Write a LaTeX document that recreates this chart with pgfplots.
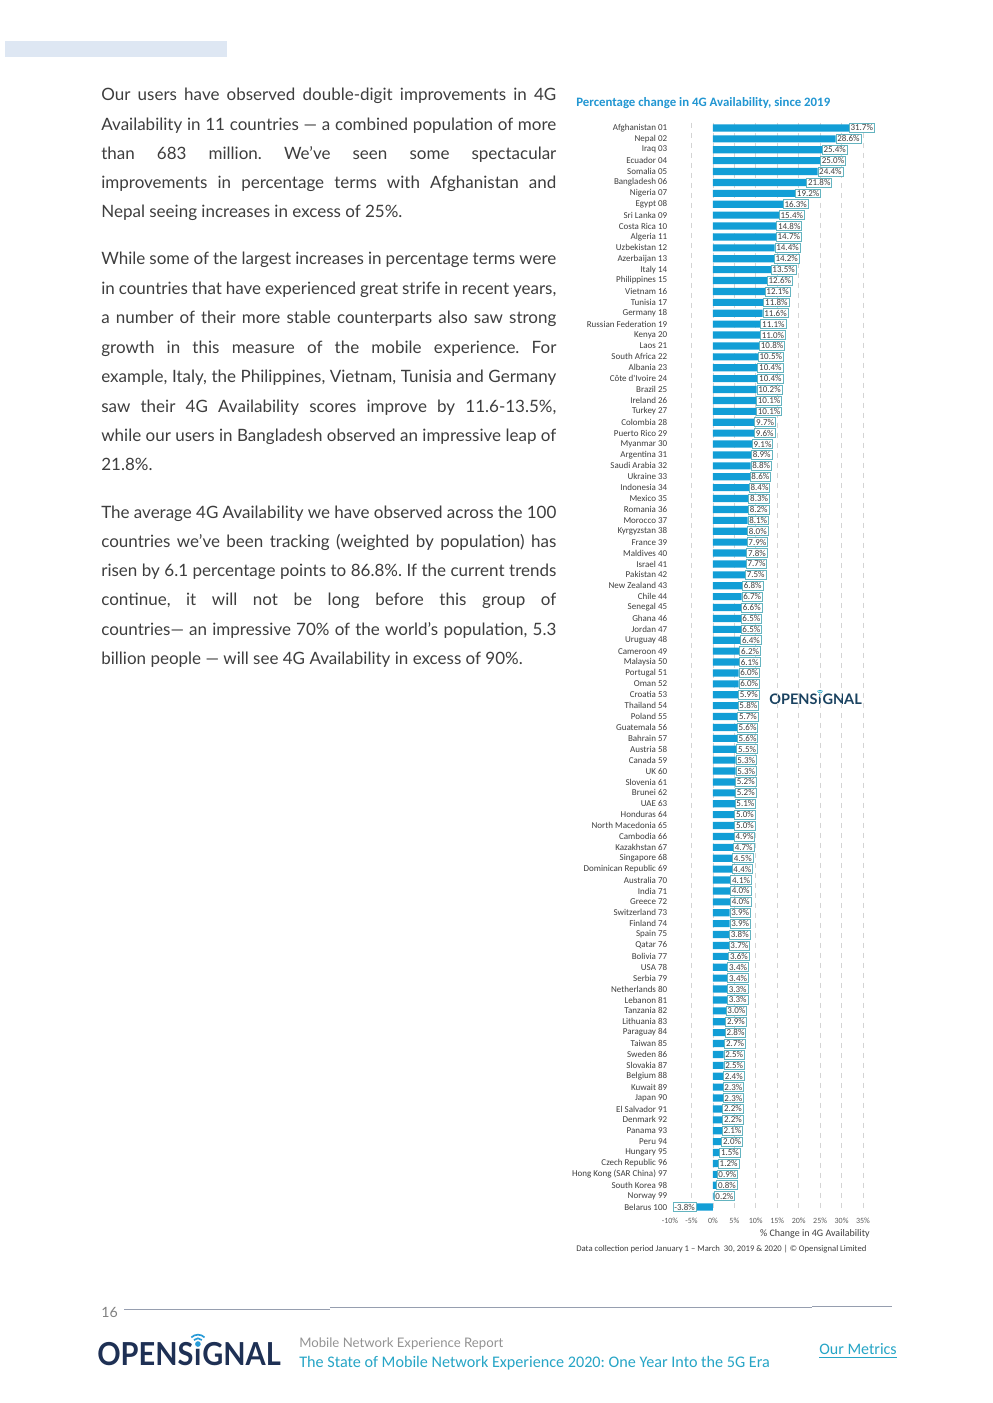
\documentclass[border=0pt]{standalone}
\usepackage{pgfplots}
\pgfplotsset{compat=1.18}
\usepackage{pgfplotstable}
\usepackage{fontspec}
\setmainfont{Lato}
\newfontfamily\cf{Carlito}
\definecolor{barblue}{RGB}{18,158,214}
\definecolor{boxteal}{RGB}{100,180,192}
\definecolor{txt}{RGB}{62,62,62}
\definecolor{gridc}{RGB}{212,212,212}
\definecolor{titleblue}{RGB}{33,150,210}
\definecolor{navy}{RGB}{30,48,84}
\definecolor{navy2}{RGB}{26,66,96}
\definecolor{sigblue}{RGB}{40,155,215}
\definecolor{teal2}{RGB}{38,165,198}
\definecolor{topbar}{RGB}{222,231,243}
\definecolor{footline}{RGB}{150,158,175}

\pgfplotstableread{
idx val
1 31.7
2 28.6
3 25.4
4 25.0
5 24.4
6 21.8
7 19.2
8 16.3
9 15.4
10 14.8
11 14.7
12 14.4
13 14.2
14 13.5
15 12.6
16 12.1
17 11.8
18 11.6
19 11.1
20 11.0
21 10.8
22 10.5
23 10.4
24 10.4
25 10.2
26 10.1
27 10.1
28 9.7
29 9.6
30 9.1
31 8.9
32 8.8
33 8.6
34 8.4
35 8.3
36 8.2
37 8.1
38 8.0
39 7.9
40 7.8
41 7.7
42 7.5
43 6.8
44 6.7
45 6.6
46 6.5
47 6.5
48 6.4
49 6.2
50 6.1
51 6.0
52 6.0
53 5.9
54 5.8
55 5.7
56 5.6
57 5.6
58 5.5
59 5.3
60 5.3
61 5.2
62 5.2
63 5.1
64 5.0
65 5.0
66 4.9
67 4.7
68 4.5
69 4.4
70 4.1
71 4.0
72 4.0
73 3.9
74 3.9
75 3.8
76 3.7
77 3.6
78 3.4
79 3.4
80 3.3
81 3.3
82 3.0
83 2.9
84 2.8
85 2.7
86 2.5
87 2.5
88 2.4
89 2.3
90 2.3
91 2.2
92 2.2
93 2.1
94 2.0
95 1.5
96 1.2
97 0.9
98 0.8
99 0.2
100 -3.8
}\data

\frenchspacing
\newcommand\jl[2]{\node[anchor=base west,inner sep=0,font=\fontsize{10.2}{12}\selectfont,text=txt] at (101,#1) {\makebox[273pt][s]{#2}};}
\newcommand\lastline[2]{\node[anchor=base west,inner sep=0,font=\fontsize{10.2}{12}\selectfont,text=txt] at (101,#1) {#2};}
\newcommand\sq[1]{\scalebox{0.915}[1]{#1}}

\begin{document}
\begin{tikzpicture}
\begin{scope}[x=0.6pt,y=-0.6pt]
\path[use as bounding box, fill=white] (0,0) rectangle (992,1403);
\fill[topbar] (5,41) rectangle (227,57);
% paragraph 1
\jl{101}{Our users have observed double-digit improvements in 4G}
\jl{130.2}{Availability in 11 countries — a combined population of more}
\jl{159.4}{than 683 million. We’ve seen some spectacular}
\jl{188.6}{improvements in percentage terms with Afghanistan and}
\lastline{217.8}{Nepal seeing increases in excess of 25\%.}
% paragraph 2
\jl{265}{While some of the largest increases in percentage terms were}
\jl{294.4}{in countries that have experienced great strife in recent years,}
\jl{323.8}{a number of their more stable counterparts also saw strong}
\jl{353.2}{growth in this measure of the mobile experience. For}
\jl{382.6}{example, Italy, the Philippines, Vietnam, Tunisia and Germany}
\jl{412}{saw their 4G Availability scores improve by 11.6-13.5\%,}
\jl{441.4}{while our users in Bangladesh observed an impressive leap of}
\lastline{470.8}{21.8\%.}
% paragraph 3
\jl{518}{The average 4G Availability we have observed across the 100}
\jl{547.3}{countries we’ve been tracking (weighted by population) has}
\jl{576.6}{risen by 6.1 percentage points to 86.8\%. If the current trends}
\jl{605.9}{continue, it will not be long before this group of}
\jl{635.2}{countries— an impressive 70\% of the world’s population, 5.3}
\lastline{664.5}{billion people — will see 4G Availability in excess of 90\%.}
% chart title
\node[anchor=west,inner sep=0,font=\cf\bfseries\fontsize{7.7}{9}\selectfont,text=titleblue] at (576,103) {Percentage change in 4G Availability, since 2019};
% axis title and note
\node[anchor=east,inner sep=0,font=\cf\fontsize{6}{7}\selectfont,text=txt] at (870,1234) {\% Change in 4G Availability};
\node[anchor=west,inner sep=0,font=\cf\fontsize{5.2}{6}\selectfont,text=txt] at (576,1249) {Data collection period January 1 – March\ \ 30, 2019 \& 2020 | © Opensignal Limited};
% chart logo
\node[anchor=base west,inner sep=0,font=\bfseries\fontsize{8.7}{10}\selectfont,text=navy2] (c1) at (769,704) {OPENS};
\node[anchor=base west,inner sep=0,font=\bfseries\fontsize{8.7}{10}\selectfont,text=navy2] (c2) at (c1.base east) {ı};
\node[anchor=base west,inner sep=0,font=\bfseries\fontsize{8.7}{10}\selectfont,text=navy2] (c3) at (c2.base east) {GNAL};
\fill[teal2] ([yshift=5.6pt]c2.base) circle (0.75pt);
\draw[teal2,line width=0.45pt] ([yshift=5.6pt]c2.base) ++(50:1.6pt) arc[start angle=50,end angle=130,radius=1.6pt];
\draw[teal2,line width=0.45pt] ([yshift=5.6pt]c2.base) ++(50:2.6pt) arc[start angle=50,end angle=130,radius=2.6pt];
% footer
\node[anchor=west,inner sep=0,font=\fontsize{8.5}{10}\selectfont,text=gray] at (101,1312) {16};
\draw[footline,line width=0.6pt] (124,1309) -- (330,1309);
\draw[footline,line width=0.6pt] (330,1307.6) -- (812,1307.6);
\draw[footline,line width=0.6pt] (812,1306.2) -- (892,1306.2);
\node[anchor=base west,inner sep=0,font=\bfseries\fontsize{19}{22}\selectfont,text=navy] (f1) at (97,1365) {\sq{OPENS}};
\node[anchor=base west,inner sep=0,font=\bfseries\fontsize{19}{22}\selectfont,text=navy] (f2) at (f1.base east) {\sq{ı}};
\node[anchor=base west,inner sep=0,font=\bfseries\fontsize{19}{22}\selectfont,text=navy] (f3) at (f2.base east) {\sq{GNAL}};
\fill[sigblue] ([yshift=12.6pt]f2.base) circle (1.7pt);
\draw[sigblue,line width=1pt] ([yshift=12.6pt]f2.base) ++(45:3.4pt) arc[start angle=45,end angle=135,radius=3.4pt];
\draw[sigblue,line width=1pt] ([yshift=12.6pt]f2.base) ++(45:5.6pt) arc[start angle=45,end angle=135,radius=5.6pt];
\node[anchor=base west,inner sep=0] at (299,1347.5) {\vtop{\offinterlineskip
  \hbox{\smash{\fontsize{7.9}{10}\selectfont\color{gray!85}Mobile Network Experience Report}}
  \kern 12pt
  \hbox{\smash{\cf\fontsize{9.7}{11}\selectfont\color{teal2}The State of Mobile Network Experience 2020: One Year Into the 5G Era}}}};
\node[anchor=west,inner sep=0,font=\cf\fontsize{9.6}{11}\selectfont,text=teal2] at (819,1351) {\underline{Our Metrics}};
\end{scope}

\begin{axis}[
  at={(402pt,-73.5pt)}, anchor=north west,
  scale only axis, width=115.8pt, height=654pt,
  xbar, bar width=4.3pt,
  xmin=-10, xmax=35, ymin=0.5, ymax=100.5, y dir=reverse,
  clip=false,
  axis line style={draw=none},
  major tick length=0pt,
  xtick={-5,0,5,10,15,20,25,30,35},
  xticklabels={-5\%,0\%,5\%,10\%,15\%,20\%,25\%,30\%,35\%},
  extra x ticks={-10},
  extra x tick labels={-10\%},
  extra x tick style={grid=none},
  xticklabel style={font=\cf\fontsize{4.8}{5}\selectfont,text=txt!85},
  xmajorgrids, grid style={dashed,gridc,line width=0.4pt},
  ytick={1,...,100},
  yticklabels={Afghanistan 01,Nepal 02,Iraq 03,Ecuador 04,Somalia 05,Bangladesh 06,Nigeria 07,Egypt 08,Sri Lanka 09,Costa Rica 10,Algeria 11,Uzbekistan 12,Azerbaijan 13,Italy 14,Philippines 15,Vietnam 16,Tunisia 17,Germany 18,Russian Federation 19,Kenya 20,Laos 21,South Africa 22,Albania 23,Côte d'Ivoire 24,Brazil 25,Ireland 26,Turkey 27,Colombia 28,Puerto Rico 29,Myanmar 30,Argentina 31,Saudi Arabia 32,Ukraine 33,Indonesia 34,Mexico 35,Romania 36,Morocco 37,Kyrgyzstan 38,France 39,Maldives 40,Israel 41,Pakistan 42,New Zealand 43,Chile 44,Senegal 45,Ghana 46,Jordan 47,Uruguay 48,Cameroon 49,Malaysia 50,Portugal 51,Oman 52,Croatia 53,Thailand 54,Poland 55,Guatemala 56,Bahrain 57,Austria 58,Canada 59,UK 60,Slovenia 61,Brunei 62,UAE 63,Honduras 64,North Macedonia 65,Cambodia 66,Kazakhstan 67,Singapore 68,Dominican Republic 69,Australia 70,India 71,Greece 72,Switzerland 73,Finland 74,Spain 75,Qatar 76,Bolivia 77,USA 78,Serbia 79,Netherlands 80,Lebanon 81,Tanzania 82,Lithuania 83,Paraguay 84,Taiwan 85,Sweden 86,Slovakia 87,Belgium 88,Kuwait 89,Japan 90,El Salvador 91,Denmark 92,Panama 93,Peru 94,Hungary 95,Czech Republic 96,Hong Kong (SAR China) 97,South Korea 98,Norway 99,Belarus 100},
  yticklabel style={font=\cf\fontsize{5.4}{6}\selectfont,text=txt,inner sep=1.5pt},
  nodes near coords={\pgfmathprintnumber[fixed,fixed zerofill,precision=1,assume math mode=true]{\pgfplotspointmeta}\%},
  every node near coord/.append style={font=\cf\fontsize{5.4}{6}\selectfont,text=txt,draw=boxteal,fill=white,line width=0.45pt,inner sep=0.8pt},
]
\addplot[fill=barblue,draw=none] table[x=val,y=idx] {\data};
\end{axis}
\end{tikzpicture}
\end{document}
